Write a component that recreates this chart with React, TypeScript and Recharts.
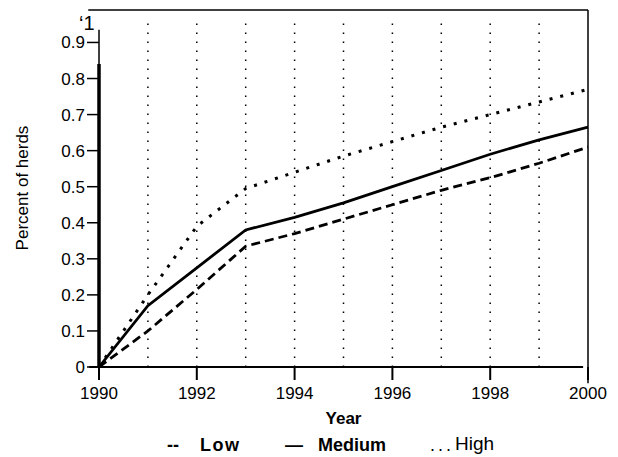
import React from 'react';
import { LineChart, Line, XAxis, YAxis, ReferenceLine, Label } from 'recharts';

const years = [1990, 1991, 1992, 1993, 1994, 1995, 1996, 1997, 1998, 1999, 2000];
const lowValues = [0, 0.1, 0.215, 0.335, 0.37, 0.41, 0.45, 0.49, 0.525, 0.565, 0.61];
const mediumValues = [0, 0.17, 0.275, 0.38, 0.415, 0.455, 0.5, 0.545, 0.59, 0.63, 0.665];
const highValues = [0, 0.2, 0.39, 0.495, 0.54, 0.585, 0.625, 0.665, 0.7, 0.735, 0.77];
const xTicks = [1990, 1992, 1994, 1996, 1998, 2000];
const yTicks = [0, 0.1, 0.2, 0.3, 0.4, 0.5, 0.6, 0.7, 0.8, 0.9];
const gridYears = [1991, 1992, 1993, 1994, 1995, 1996, 1997, 1998, 1999];

const data = years.map((year, i) => ({
  year,
  low: lowValues[i],
  medium: mediumValues[i],
  high: highValues[i],
}));

const font = '"Liberation Sans", Arial, sans-serif';

export default function App() {
  return (
    <div style={{ position: 'absolute', left: 0, top: 0, width: 618, height: 457, background: '#fff' }}>
      <LineChart
        width={618}
        height={457}
        data={data}
        margin={{ top: 10, right: 30, bottom: 30, left: 0 }}
      >
        {gridYears.map((y) => (
          <ReferenceLine
            key={y}
            stroke="#000"
            strokeWidth={1.5}
            strokeDasharray="1.5 7.5"
            segment={[{ x: y, y: 0 }, { x: y, y: 0.97 }]}
          />
        ))}
        {/* frame: top and right edges, bottom axis line, split left axis */}
        <ReferenceLine
          stroke="#000"
          strokeWidth={1.5}
          ifOverflow="visible"
          segment={[{ x: 1989.78, y: 0.99 }, { x: 2000, y: 0.99 }]}
        />
        <ReferenceLine
          stroke="#000"
          strokeWidth={1.5}
          ifOverflow="visible"
          segment={[{ x: 2000, y: 0.99 }, { x: 2000, y: -0.045 }]}
        />
        <ReferenceLine
          stroke="#000"
          strokeWidth={2}
          ifOverflow="visible"
          segment={[{ x: 1989.8, y: 0 }, { x: 1999.9, y: 0 }]}
        />
        <ReferenceLine
          stroke="#000"
          strokeWidth={3.5}
          ifOverflow="visible"
          segment={[{ x: 1990, y: 0 }, { x: 1990, y: 0.84 }]}
        />
        <ReferenceLine
          stroke="#000"
          strokeWidth={1.5}
          ifOverflow="visible"
          segment={[{ x: 1990, y: 0.84 }, { x: 1990, y: 0.935 }]}
        />
        <XAxis
          dataKey="year"
          type="number"
          domain={[1990, 2000]}
          ticks={xTicks}
          axisLine={false}
          tickLine={{ stroke: '#000', strokeWidth: 2 }}
          tickSize={13}
          tickMargin={7}
          tick={{ fill: '#000', fontSize: 17, fontFamily: font }}
          height={60}
        >
          <Label
            value="Year"
            position="insideBottom"
            offset={3}
            style={{ fill: '#000', fontWeight: 'bold', fontSize: 17, fontFamily: font }}
          />
        </XAxis>
        <YAxis
          type="number"
          domain={[0, 0.99]}
          ticks={yTicks}
          allowDataOverflow
          width={99}
          axisLine={false}
          tickLine={{ stroke: '#000', strokeWidth: 1.5 }}
          tickSize={12}
          tickFormatter={(v: number) => (v === 0 ? '0' : v.toFixed(1))}
          tick={{ fill: '#000', fontSize: 17, fontFamily: font }}
        />
        <Line
          dataKey="low"
          type="linear"
          stroke="#000"
          strokeWidth={2.8}
          strokeDasharray="9 5"
          dot={false}
          isAnimationActive={false}
        />
        <Line
          dataKey="medium"
          type="linear"
          stroke="#000"
          strokeWidth={2.8}
          dot={false}
          isAnimationActive={false}
        />
        <Line
          dataKey="high"
          type="linear"
          stroke="#000"
          strokeWidth={3}
          strokeDasharray="3 8"
          dot={false}
          isAnimationActive={false}
        />
      </LineChart>
      <div
        style={{
          position: 'absolute',
          left: 23,
          top: 188,
          transform: 'translate(-50%, -50%) rotate(-90deg)',
          whiteSpace: 'nowrap',
          fontFamily: font,
          fontSize: 17,
          color: '#000',
        }}
      >
        Percent of herds
      </div>
      <span style={{ position: 'absolute', left: 79, top: 12, fontFamily: font, fontSize: 20, color: '#000' }}>‘1</span>
      <div style={{ position: 'absolute', left: 0, top: 435, fontFamily: font, fontSize: 18, color: '#000', whiteSpace: 'nowrap' }}>
        <span style={{ position: 'absolute', left: 167, fontWeight: 'bold' }}>--</span>
        <span style={{ position: 'absolute', left: 200, fontWeight: 'bold', letterSpacing: 1.5 }}>Low</span>
        <span style={{ position: 'absolute', left: 285, fontWeight: 'bold' }}>—</span>
        <span style={{ position: 'absolute', left: 318, fontWeight: 'bold' }}>Medium</span>
        <span style={{ position: 'absolute', left: 430, letterSpacing: -1 }}>. . .</span>
        <span style={{ position: 'absolute', left: 455, fontSize: 19, top: -2 }}>High</span>
      </div>
    </div>
  );
}
